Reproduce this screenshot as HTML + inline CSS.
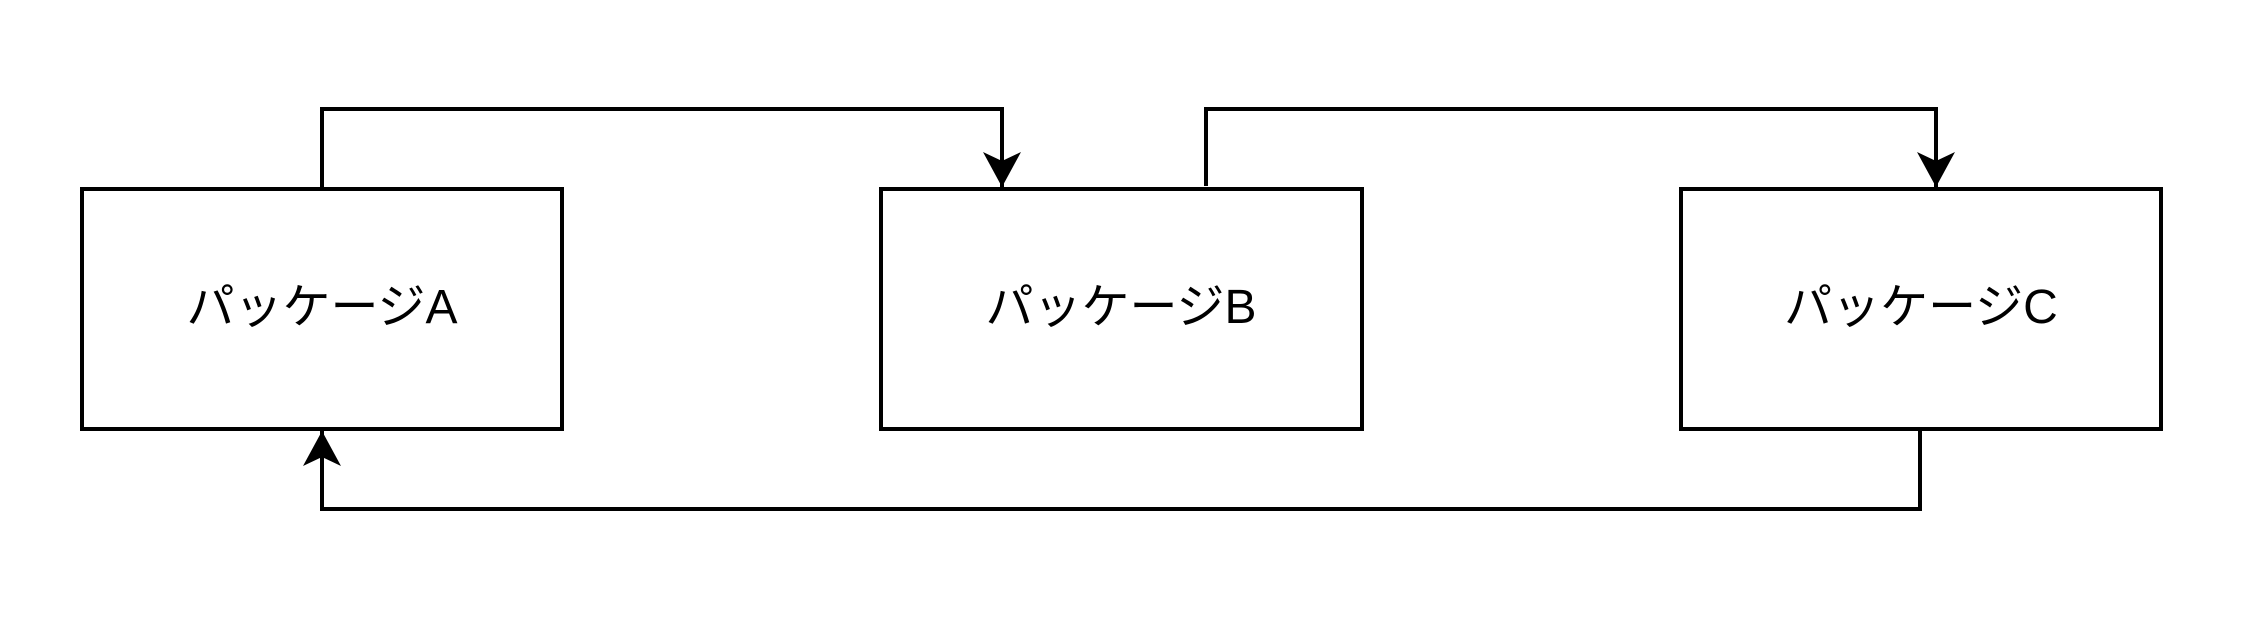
<!DOCTYPE html>
<html><head><meta charset="utf-8"><style>
html,body{margin:0;padding:0;background:#fff;}
svg{display:block;}
text{font-family:"Liberation Sans","Noto Sans CJK JP",sans-serif;font-size:48px;fill:#000;}
</style></head><body>
<svg width="2244" height="624" viewBox="0 0 2244 624">
<defs>
<marker id="ah" markerWidth="38" markerHeight="38" refX="35" refY="19" orient="auto" markerUnits="userSpaceOnUse">
<path d="M0,0 L35,19 L0,38 L9,19 Z" fill="#000"/>
</marker>
</defs>
<g fill="none" stroke="#000" stroke-width="4">
<path d="M322,189 V109 H1002 V187" marker-end="url(#ah)"/>
<path d="M1206,186 V109 H1936 V187" marker-end="url(#ah)"/>
<path d="M1920,429 V509 H322 V431" marker-end="url(#ah)"/>
<rect x="82" y="189" width="480" height="240" fill="#fff"/>
<rect x="881" y="189" width="481" height="240" fill="#fff"/>
<rect x="1681" y="189" width="480" height="240" fill="#fff"/>
</g>
<text x="322" y="323" text-anchor="middle">パッケージA</text>
<text x="1121" y="323" text-anchor="middle">パッケージB</text>
<text x="1921" y="323" text-anchor="middle">パッケージC</text>
</svg>
</body></html>
